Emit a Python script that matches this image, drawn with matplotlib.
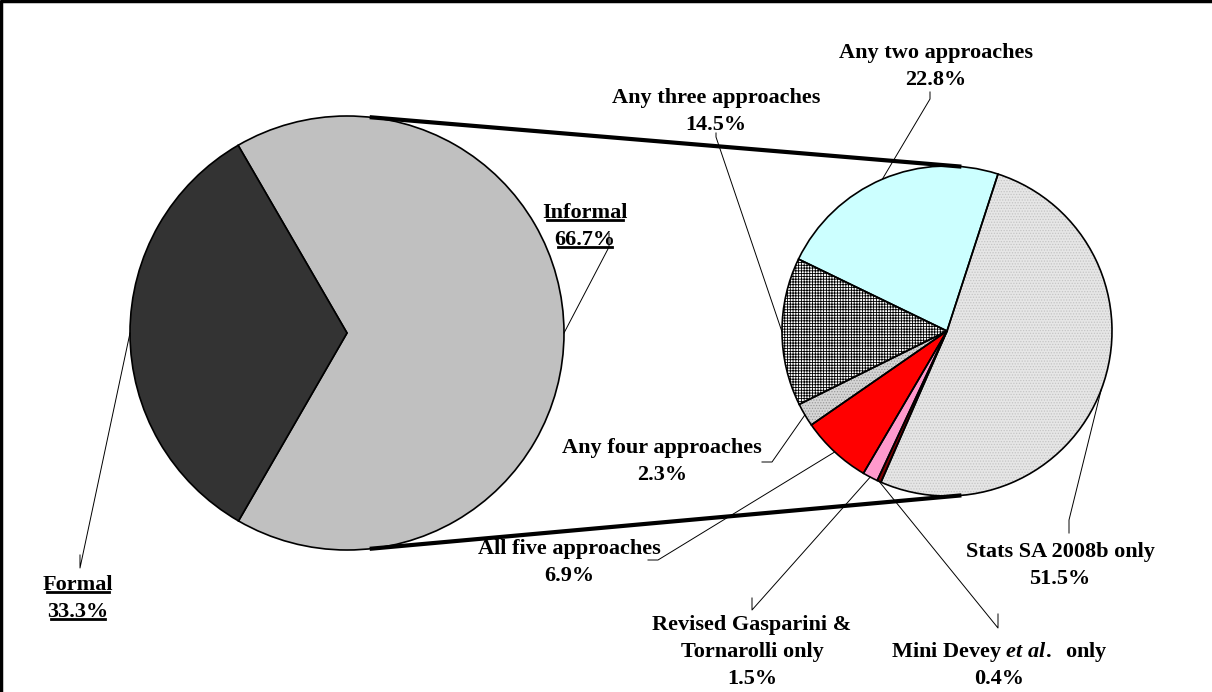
import numpy as np
import matplotlib
matplotlib.use("Agg")
import matplotlib.pyplot as plt

# Employment split (main pie)
outer_labels = ["Informal", "Formal"]
outer_values = [66.7, 33.3]

# Breakdown of the informal share (secondary pie), counter-clockwise order
inner_labels = ["Any two approaches", "Any three approaches", "Any four approaches",
                "All five approaches", "Revised Gasparini &\nTornarolli only",
                "Mini Devey $\\mathit{et\\ al.}$  only", "Stats SA 2008b only"]
inner_values = [22.8, 14.5, 2.3, 6.9, 1.5, 0.4, 51.5]
inner_colors = ["#ccffff", "#ffffff", "#d6d6d6", "#ff0000", "#ff99cc", "#800000", "#e6e6e6"]
inner_hatches = [None, "++++++", "......", None, None, None, "......"]
inner_hatch_colors = [None, "#000000", "#9a9a9a", None, None, None, "#c4c4c4"]

W, H = 1212, 692
plt.rcParams["font.family"] = ["Liberation Serif", "DejaVu Serif"]
plt.rcParams["font.weight"] = "bold"
plt.rcParams["mathtext.fontset"] = "custom"
plt.rcParams["mathtext.it"] = "Liberation Serif:italic:bold"
plt.rcParams["mathtext.rm"] = "Liberation Serif:bold"
plt.rcParams["hatch.linewidth"] = 0.6

fig = plt.figure(figsize=(W / 100, H / 100), dpi=100)
ax = fig.add_axes([0, 0, 1, 1])


def px(x, y):
    # screen-style coordinates (y down) -> data coordinates
    return x, H - y


# pie geometry
c1, r1 = px(347, 333), 217
c2, r2 = px(947, 331), 165
start2 = 72.0


def edge_point(c, r, ang):
    a = np.radians(ang)
    return c[0] + r * np.cos(a), c[1] + r * np.sin(a)


# main pie
ax.pie(outer_values, colors=["#c0c0c0", "#333333"], startangle=-120,
       center=c1, radius=r1, frame=True,
       wedgeprops=dict(edgecolor="black", linewidth=1.2))

# secondary pie: fills, then hatching, then outlines
wedges, _ = ax.pie(inner_values, colors=inner_colors, startangle=start2,
                   center=c2, radius=r2, frame=True,
                   wedgeprops=dict(linewidth=0))
for w, h, hc in zip(wedges, inner_hatches, inner_hatch_colors):
    if h:
        w.set_hatch(h)
        w.set_edgecolor(hc)
        w.set_linewidth(0)
ax.pie(inner_values, startangle=start2, center=c2, radius=r2, frame=True,
       wedgeprops=dict(fill=False, edgecolor="black", linewidth=1.2))

# connector lines between the two pies
for a1, a2 in [(84, 85), (-84, -85)]:
    p = edge_point(c1, r1, a1)
    q = edge_point(c2, r2, a2)
    ax.plot([p[0], q[0]], [p[1], q[1]], color="black", lw=3.0,
            solid_capstyle="butt", zorder=5)

fs = 16

# mid angles of every wedge
outer_mid = [0.0, 180.0]
tot = sum(inner_values)
cum = np.cumsum([0] + inner_values)
inner_mid = [start2 + 360 * (cum[i] + inner_values[i] / 2) / tot
             for i in range(len(inner_values))]

# label centres and leader ticks (tick start, tick end)
outer_pos = [(585, 213), (78, 585)]
outer_ticks = [((609, 233), (609, 247)), ((80, 555), (80, 568))]

inner_pos = [(936, 53), (716, 98), (662, 448), (569, 549), (752, 625),
             (999, 652), (1060, 552)]
inner_ticks = [((930, 92), (930, 99)), ((716, 133), (716, 137)),
               ((762, 462), (772, 462)), ((648, 560), (658, 560)),
               ((752, 598), (752, 610)), ((998, 614), (998, 628)),
               ((1069, 533), (1069, 520))]

# underlined labels of the main pie
fig.canvas.draw()
renderer = fig.canvas.get_renderer()
for lab, val, pos in zip(outer_labels, outer_values, outer_pos):
    for k, s in enumerate([lab, f"{val:.1f}%"]):
        x, y = px(pos[0], pos[1] + 27 * k)
        t = ax.text(x, y, s, ha="center", va="center", fontsize=fs)
        bb = t.get_window_extent(renderer).transformed(ax.transData.inverted())
        ax.plot([bb.x0, bb.x1], [bb.y0 + 1.5, bb.y0 + 1.5], color="black", lw=2.0)

# labels of the secondary pie
for lab, val, pos in zip(inner_labels, inner_values, inner_pos):
    lines = lab.split("\n") + [f"{val:.1f}%"]
    for k, s in enumerate(lines):
        x, y = px(pos[0], pos[1] + 27 * k)
        ax.text(x, y, s, ha="center", va="center", fontsize=fs)

# leader lines
for c, r, mids, ticks in [(c1, r1, outer_mid, outer_ticks),
                          (c2, r2, inner_mid, inner_ticks)]:
    for m, (t0, t1) in zip(mids, ticks):
        e = edge_point(c, r, m)
        a, b = px(*t0), px(*t1)
        ax.plot([a[0], b[0], e[0]], [a[1], b[1], e[1]], color="black", lw=0.7, zorder=6)

# outer frame (top and left edges)
ax.plot([1, 1, W], [0, H - 1, H - 1], color="black", lw=2.5, clip_on=False)

ax.set_xlim(0, W)
ax.set_ylim(0, H)
ax.axis("off")
fig.savefig("out.png", dpi=100)
